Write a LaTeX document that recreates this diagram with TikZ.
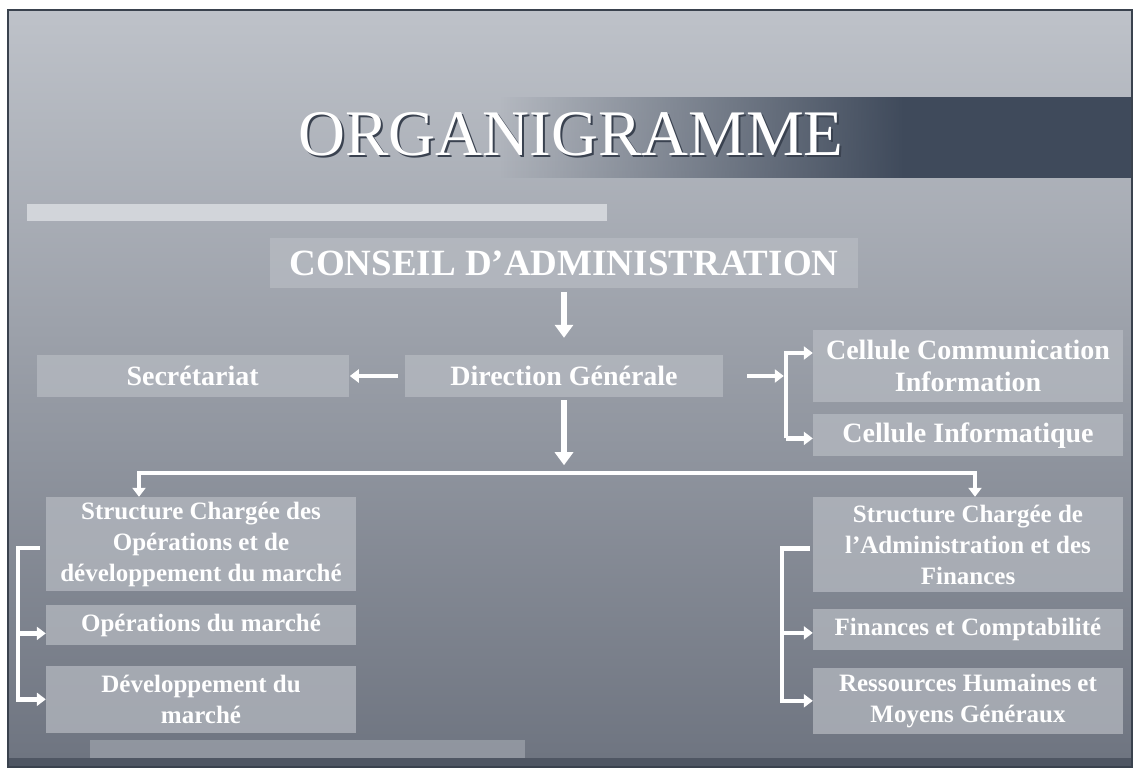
\documentclass[tikz,border=0pt]{standalone}
\usepackage{fontspec}
\setmainfont{Liberation Serif}
\usetikzlibrary{positioning, calc, arrows.meta, fadings}

\definecolor{slidetop}{HTML}{BEC2C9}
\definecolor{slidemid}{HTML}{A0A5AD}
\definecolor{slidebot}{HTML}{6E7480}
\definecolor{bannerdark}{HTML}{3F4A5B}
\definecolor{boxgray}{HTML}{B8BCC3}
\definecolor{framegray}{HTML}{3A424E}
\definecolor{lightbar}{HTML}{D2D5DA}
\definecolor{footbar}{HTML}{A6ABB3}
\definecolor{footdark}{HTML}{4F5663}
\definecolor{titleshade}{HTML}{3A4250}

\begin{document}
\begin{tikzpicture}[
			x=1pt, y=-1pt,
			unit/.style={fill=boxgray, fill opacity=0.7, text opacity=1, text=white, align=center, inner sep=0pt, minimum width=310pt, font=\bfseries\fontsize{25}{31}\selectfont},
			toprow/.style={unit, font=\bfseries\fontsize{28}{32}\selectfont},
			link/.style={draw=white, line width=4.5pt},
			arr/.style={link, -{Triangle[width=13pt,length=9pt]}},
			twoway/.style={link, {Triangle[width=13pt,length=9pt]}-{Triangle[width=13pt,length=9pt]}},
			bigarr/.style={draw=white, line width=6.5pt, -{Triangle[width=18pt,length=13pt]}},
		]
			\useasboundingbox (0,0) rectangle (1134,769);
			\fill[white] (0,0) rectangle (1134,769);
			\shade[top color=slidetop, middle color=slidemid, bottom color=slidebot] (8,10) rectangle (1132,767);
			\fill[bannerdark, path fading=west] (500,97) rectangle (905,178);
			\fill[bannerdark] (904,97) rectangle (1132,178);
			\fill[lightbar] (27,204) rectangle (607,221);
			\fill[footbar, opacity=0.6] (90,740) rectangle (525,760);
			\fill[footdark] (8,758) rectangle (1132,767);
			\draw[framegray, line width=1.2pt] (8,10) rectangle (1132,767);

			\node[font=\fontsize{65}{65}\selectfont, text=titleshade, anchor=base] (titleshadow) at (573,157) {ORGANIGRAMME};
			\node[font=\fontsize{65}{65}\selectfont, text=white, anchor=base] (title) at (571,155) {ORGANIGRAMME};

			\node[unit, minimum width=588pt, minimum height=50pt, font=\bfseries\fontsize{37}{40}\selectfont] (conseil) at (564,263) {CONSEIL D’ADMINISTRATION};
			\node[toprow, minimum width=318pt, minimum height=42pt] (direction) at (564,376) {Direction Générale};
			\node[toprow, minimum width=312pt, minimum height=42pt, left=56pt of direction] (secretariat) {Secrétariat};
			\node[toprow, minimum height=72pt] (cellcom) at (968,366) {Cellule Communication\\Information};
			\node[toprow, minimum height=42pt, below=12pt of cellcom] (cellinfo) {Cellule Informatique};

			\node[unit, minimum height=94pt] (structop) at (201,544) {Structure Chargée des\\Opérations et de\\développement du marché};
			\node[unit, minimum height=40pt, below=14pt of structop] (opmarche) {Opérations du marché};
			\node[unit, minimum height=67pt, below=20pt of opmarche] (devmarche) {Développement du\\marché};
			\node[unit, minimum height=95pt] (structadm) at (968,544.5) {Structure Chargée de\\l’Administration et des\\Finances};
			\node[unit, minimum height=41pt, below=17pt of structadm] (fincompta) {Finances et Comptabilité};
			\node[unit, minimum height=66pt, below=17pt of fincompta] (rhmg) {Ressources Humaines et\\Moyens Généraux};

			\coordinate (rbrk) at ([xshift=-27pt]cellcom.west);
			\coordinate (hub) at ([yshift=-76pt]direction.south);
			\coordinate (lbrk) at ([xshift=-28pt]devmarche.west);
			\coordinate (rbrk2) at ([xshift=-31pt]rhmg.west);

			\draw[bigarr, shorten <=4pt, shorten >=17pt] (conseil) -- (direction);
			\draw[arr, shorten <=7pt, shorten >=1pt] (direction) -- (secretariat);
			\draw[arr, shorten <=24pt, shorten >=2pt] (direction.east) -- (direction.east -| rbrk);
			\draw[arr] ([yshift=-3pt]cellinfo.west -| rbrk) |- ([yshift=13pt]cellcom.west);
			\draw[arr] ([yshift=-3pt]cellinfo.west -| rbrk) -- ([yshift=-3pt]cellinfo.west);
			\draw[bigarr, shorten <=3pt, shorten >=8pt] (direction.south) -- (hub);
			\draw[twoway] ([xshift=-62pt]structop.north) |- (hub) -| ([xshift=7pt]structadm.north);
			\draw[arr] ([xshift=-6pt,yshift=-4pt]structop.west) -| (lbrk) -- (devmarche.west);
			\draw[arr] ([yshift=-8pt]opmarche.west -| lbrk) -- ([yshift=-8pt]opmarche.west);
			\draw[arr] ([xshift=-3pt,yshift=-4pt]structadm.west) -| (rbrk2) -- (rhmg.west);
			\draw[arr] ([yshift=-3pt]fincompta.west -| rbrk2) -- ([yshift=-3pt]fincompta.west);
		\end{tikzpicture}
\end{document}
